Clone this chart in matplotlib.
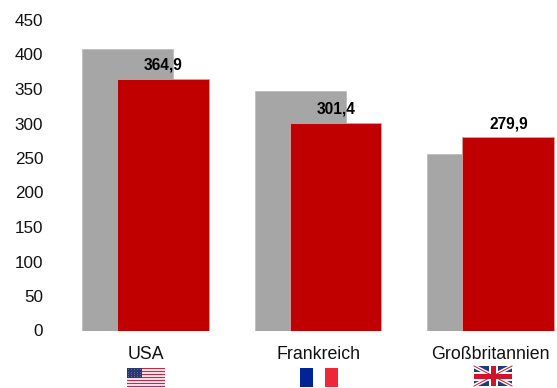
import matplotlib
matplotlib.use('Agg')
import matplotlib.pyplot as plt
from matplotlib.patches import Rectangle, Polygon

plt.rcParams['font.family'] = ['Liberation Sans', 'DejaVu Sans']

countries = ['USA', 'Frankreich', 'Großbritannien']
grey_values = [408, 347, 256]
red_values = [364.9, 301.4, 279.9]
red_labels = ['364,9', '301,4', '279,9']
y_ticks = [0, 50, 100, 150, 200, 250, 300, 350, 400, 450]

W, H = 557, 388
fig = plt.figure(figsize=(W / 100, H / 100), dpi=100)

# axes placed in pixels, from 60 to the right edge, y=0 at 330.5, 450 at 20
ax = fig.add_axes([60 / W, (H - 330.5) / H, (W - 60) / W, 310.5 / H])
ax.set_ylim(0, 450)
step = 172.5
ax.set_xlim((60 - 145.5) / step, (W - 145.5) / step)

xs = list(range(len(countries)))
ax.bar([x - 0.104 for x in xs], grey_values, width=0.5275, color='#A6A6A6', edgecolor='#BDBDBD', linewidth=0.6, zorder=2)
ax.bar([x + 0.102 for x in xs], red_values, width=0.531, color='#C00000', edgecolor='#D9A0A0', linewidth=0.6, zorder=3)

for x, v, lab in zip(xs, red_values, red_labels):
    ax.text(x + 0.104, v + 9, lab, ha='center', va='bottom', fontsize=11.2, fontweight='bold', color='black', zorder=4)

for s in ax.spines.values():
    s.set_visible(False)
ax.set_yticks(y_ticks)
ax.set_xticks(xs)
ax.set_xticklabels(countries)
ax.tick_params(axis='y', length=0, labelsize=12.3, colors='#111111', pad=12)
ax.tick_params(axis='x', length=0, labelsize=12.8, colors='#111111', pad=11)

# flags, in pixel coordinates on a full figure overlay
ov = fig.add_axes([0, 0, 1, 1])
ov.set_xlim(0, W)
ov.set_ylim(H, 0)
ov.axis('off')

def box(a, x0, y0, x1, y1, c):
    a.add_patch(Rectangle((x0, y0), x1 - x0, y1 - y0, facecolor=c, edgecolor='none'))

# USA
x0, y0, x1, y1 = 127, 368, 165, 387
n = 13
for i in range(n):
    c = '#C8284A' if i % 2 == 0 else '#F5E1E5'
    box(ov, x0, y0 + i * (y1 - y0) / n, x1, y0 + (i + 1) * (y1 - y0) / n, c)
box(ov, x0, y0, x0 + 15, y0 + 10, '#26386F')
for r in range(4):
    for k in range(5):
        box(ov, x0 + 1.2 + k * 2.9, y0 + 1.2 + r * 2.3, x0 + 2.2 + k * 2.9, y0 + 2.2 + r * 2.3, '#5F6E9C')

# France
box(ov, 300, 368, 313, 387, '#002395')
box(ov, 313, 368, 325, 387, '#FFFFFF')
box(ov, 325, 368, 338, 387, '#ED2939')

# UK
x0, y0, x1, y1 = 474, 366, 512, 386
box(ov, x0, y0, x1, y1, '#1F3A7D')
t = 4
ov.add_patch(Polygon([(x0, y0), (x0 + t, y0), (x1, y1 - t * .6), (x1, y1), (x1 - t, y1), (x0, y0 + t * .6)], facecolor='white', edgecolor='none'))
ov.add_patch(Polygon([(x1, y0), (x1 - t, y0), (x0, y1 - t * .6), (x0, y1), (x0 + t, y1), (x1, y0 + t * .6)], facecolor='white', edgecolor='none'))
ov.plot([x0, x1], [y0, y1], color='#CF142B', lw=0.7)
ov.plot([x1, x0], [y0, y1], color='#CF142B', lw=0.7)
box(ov, 488.5, y0, 497.5, y1, '#FFFFFF')
box(ov, x0, 371.5, x1, 380.5, '#FFFFFF')
box(ov, 490.5, y0, 495.5, y1, '#CF142B')
box(ov, x0, 373.5, x1, 378.5, '#CF142B')

plt.savefig('out.png', dpi=100)
plt.close()
